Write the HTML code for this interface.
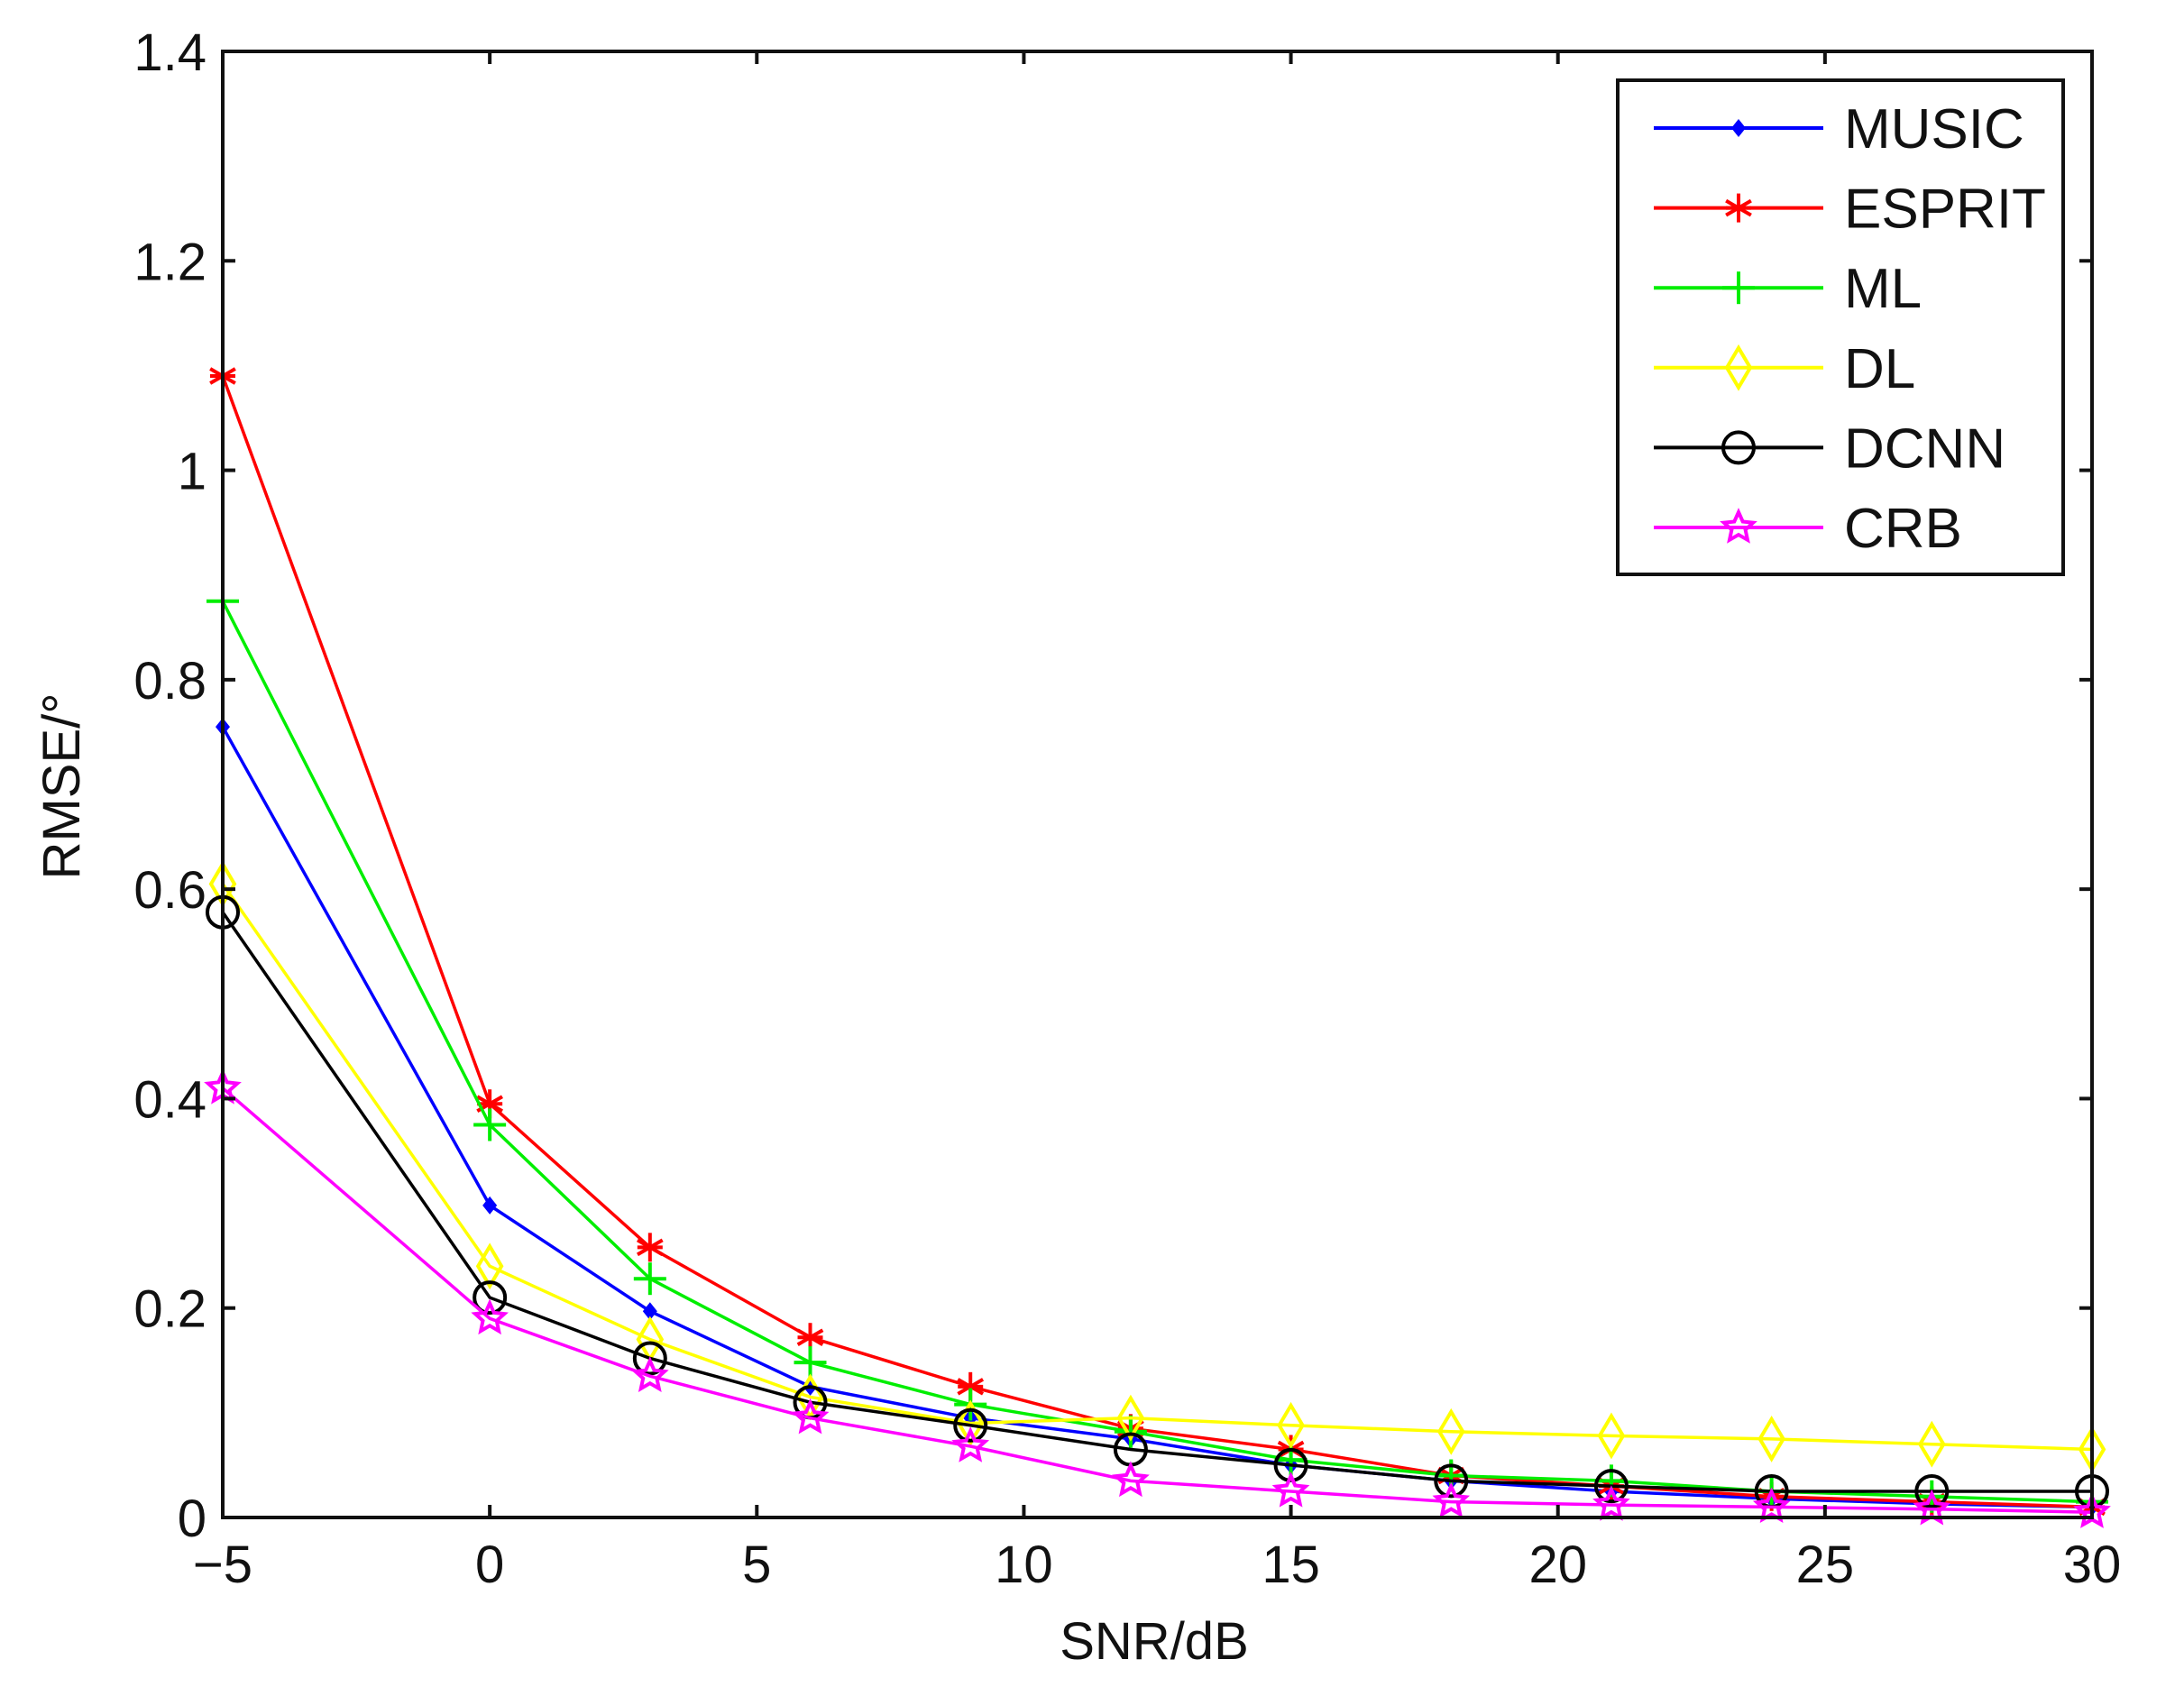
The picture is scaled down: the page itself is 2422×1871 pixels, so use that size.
<!DOCTYPE html>
<html><head><meta charset="utf-8"><style>
html,body{margin:0;padding:0;background:#fff;}
svg{display:block;}
text{font-family:"Liberation Sans",sans-serif;fill:#111;}
</style></head><body>
<svg id="s" width="2422" height="1871" viewBox="0 0 2422 1871" xmlns="http://www.w3.org/2000/svg">
<rect width="2422" height="1871" fill="#fff"/>
<g id="series"></g>
<rect x="247" y="57" width="2073" height="1626" fill="none" stroke="#111" stroke-width="4"/>
<g id="ticks" stroke="#111" stroke-width="4"></g>
<g id="labels" font-size="58"></g>
<text x="1280" y="1840" font-size="58" text-anchor="middle">SNR/dB</text>
<text transform="translate(88,872) rotate(-90)" font-size="58" text-anchor="middle">RMSE/°</text>
<rect x="1794" y="89" width="494" height="548" fill="#fff" stroke="#111" stroke-width="4"/>
<g id="legend"></g>
</svg>
<script>
const L=247,R=2320,T=57,B=1683;
const X=v=>L+(v+5)/35*(R-L), Y=v=>B-v/1.4*(B-T);
const ns="http://www.w3.org/2000/svg";
function el(p,tag,a){const e=document.createElementNS(ns,tag);for(const k in a)e.setAttribute(k,a[k]);p.appendChild(e);return e;}
const tk=document.getElementById('ticks'),lb=document.getElementById('labels');
for(let v=-5;v<=30;v+=5){const x=X(v);el(tk,'line',{x1:x,y1:B,x2:x,y2:B-14});el(tk,'line',{x1:x,y1:T,x2:x,y2:T+14});
 const t=el(lb,'text',{x:x,y:B+72,'text-anchor':'middle'});t.textContent=(v<0?'\u2212'+(-v):v);}
for(let i=0;i<=7;i++){const v=i*0.2,y=Y(v);el(tk,'line',{x1:L,y1:y,x2:L+14,y2:y});el(tk,'line',{x1:R,y1:y,x2:R-14,y2:y});
 const t=el(lb,'text',{x:L-18,y:y+21,'text-anchor':'end'});t.textContent=i==0?'0':(i==5?'1':v.toFixed(1));}
const xs=[-5,0,3,6,9,12,15,18,21,24,27,30];
const S=[
['MUSIC','#0000ff','dot',[.755,.298,.197,.125,.095,.075,.05,.035,.025,.018,.013,.01]],
['ESPRIT','#ff0000','ast',[1.09,.395,.258,.172,.125,.085,.065,.04,.03,.02,.015,.01]],
['ML','#00ee00','plus',[.875,.375,.228,.148,.108,.082,.055,.04,.035,.025,.02,.015]],
['DL','#ffff00','dia',[.605,.24,.17,.115,.09,.095,.088,.082,.078,.075,.07,.065]],
['DCNN','#000000','circ',[.578,.21,.152,.11,.088,.065,.05,.035,.03,.025,.025,.025]],
['CRB','#ff00ff','star',[.41,.19,.135,.095,.068,.035,.025,.015,.012,.01,.008,.005]]];
function mk(g,type,c,x,y){
 if(type=='dot')el(g,'path',{d:`M${x-8},${y}L${x},${y-10}L${x+8},${y}L${x},${y+10}Z`,fill:c});
 else if(type=='ast'){for(const a of[0,60,120]){const r=a*Math.PI/180;el(g,'line',{x1:x-16*Math.sin(r),y1:y-16*Math.cos(r),x2:x+16*Math.sin(r),y2:y+16*Math.cos(r),stroke:c,'stroke-width':4});}el(g,'line',{x1:x-14,y1:y,x2:x+14,y2:y,stroke:c,'stroke-width':4});}
 else if(type=='plus'){el(g,'line',{x1:x-18,y1:y,x2:x+18,y2:y,stroke:c,'stroke-width':4});el(g,'line',{x1:x,y1:y-18,x2:x,y2:y+18,stroke:c,'stroke-width':4});}
 else if(type=='dia')el(g,'path',{d:`M${x-13},${y}L${x},${y-22}L${x+13},${y}L${x},${y+22}Z`,fill:'none',stroke:c,'stroke-width':4});
 else if(type=='circ')el(g,'circle',{cx:x,cy:y,r:17,fill:'none',stroke:c,'stroke-width':4});
 else if(type=='star'){let p='';for(let i=0;i<10;i++){const r=(i%2?8:17),a=i*Math.PI/5;p+=(i?'L':'M')+(x+r*Math.sin(a)).toFixed(1)+','+(y-r*Math.cos(a)).toFixed(1);}el(g,'path',{d:p+'Z',fill:'none',stroke:c,'stroke-width':4});}
}
const sg=document.getElementById('series'),lg=document.getElementById('legend');
S.forEach((s,i)=>{
 const pts=xs.map((x,j)=>X(x)+','+Y(s[3][j])).join(' ');
 el(sg,'polyline',{points:pts,fill:'none',stroke:s[1],'stroke-width':3.5});
 xs.forEach((x,j)=>mk(sg,s[2],s[1],X(x),Y(s[3][j])));
 const y=142+i*88.6;
 el(lg,'line',{x1:1834,y1:y,x2:2022,y2:y,stroke:s[1],'stroke-width':4});
 mk(lg,s[2],s[1],1928,y);
 const t=el(lg,'text',{x:2045,y:y+22,'font-size':62});t.textContent=s[0];
});
</script>
</body></html>
